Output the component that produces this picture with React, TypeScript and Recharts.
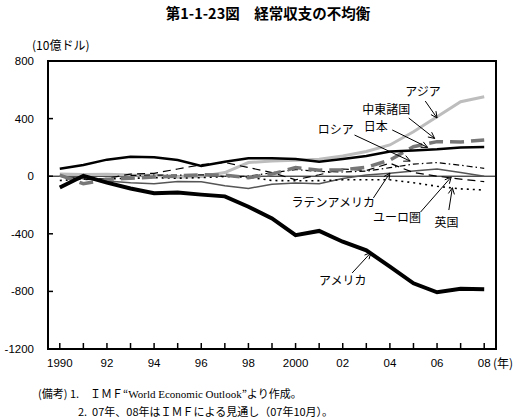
import React from "react"
import {
  LineChart,
  Line,
  XAxis,
  YAxis,
  ReferenceLine,
  ReferenceArea,
  ReferenceDot,
} from "recharts"

const years = [
  1990, 1991, 1992, 1993, 1994, 1995, 1996, 1997, 1998, 1999, 2000, 2001,
  2002, 2003, 2004, 2005, 2006, 2007, 2008,
]
const usa = [
  -79, 3, -45, -85, -118, -113, -128, -140, -212, -293, -410, -380, -455,
  -515, -628, -744, -806, -782, -785,
]
const japan = [
  52, 78, 115, 135, 131, 112, 71, 100, 124, 124, 120, 100, 119, 140, 172, 178,
  187, 200, 202,
]
const asia = [
  15, 12, 14, 8, 6, -8, -2, 25, 95, 105, 110, 118, 140, 172, 217, 309, 413,
  517, 552,
]
const middleEast = [
  8, -52, -22, -15, -6, 2, 10, 8, -10, 15, 60, 42, 45, 62, 112, 205, 240, 238,
  251,
]
const russia = [
  null, null, null, 5, 8, 7, 10, -2, 0, 24, 46, 33, 29, 35, 59, 84, 95, 76, 55,
]
const euro = [
  0, -25, -15, 15, 20, 50, 80, 95, 60, 25, -25, 10, 50, 40, 90, 25, 0, -20,
  -38,
]
const latinAmerica = [
  -1, -17, -34, -46, -52, -37, -39, -66, -85, -56, -48, -53, -16, 8, 21, 36,
  50, 25, 0,
]
const uk = [
  -30, -20, -18, -15, -10, -14, -10, -2, -6, -30, -32, -31, -25, -25, -25,
  -45, -70, -88, -96,
]

const yTicks = [-1200, -800, -400, 0, 400, 800]

// label text position, arrow start, arrow tip (all in data units)
const notes = [
  { text: "アジア", tx: 2005.4, ty: 585, ax: 2005.5, ay: 522, bx: 2006.0, by: 404 },
  { text: "中東諸国", tx: 2003.85, ty: 459, ax: 2004.8, ay: 404, bx: 2005.9, by: 262 },
  { text: "日本", tx: 2003.4, ty: 341, ax: 2004.1, ay: 321, bx: 2005.6, by: 200 },
  { text: "ロシア", tx: 2001.7, ty: 321, ax: 2002.5, ay: 286, bx: 2004.86, by: 105 },
  { text: "ラテンアメリカ", tx: 2001.6, ty: -186, ax: 2003.3, ay: -151, bx: 2004.0, by: 22 },
  { text: "ユーロ圏", tx: 2004.3, ty: -290, ax: 2005.3, ay: -249, bx: 2006.6, by: -6 },
  { text: "英国", tx: 2006.4, ty: -325, ax: 2006.5, ay: -235, bx: 2006.65, by: -80 },
  { text: "アメリカ", tx: 2002.0, ty: -728, ax: 2002.4, ay: -672, bx: 2003.2, by: -530 },
]

const data = years.map((y, i) => ({
  year: y,
  usa: usa[i],
  japan: japan[i],
  asia: asia[i],
  middleEast: middleEast[i],
  russia: russia[i],
  euro: euro[i],
  latinAmerica: latinAmerica[i],
  uk: uk[i],
}))

const jp = '"Noto Sans CJK JP", sans-serif'
const num = '"Liberation Sans", Arial, sans-serif'

function fmtYear(y: number) {
  if (y === 1990 || y === 2000) return String(y)
  return String(y % 100).padStart(2, "0")
}

function XTick(props: any) {
  const { x, y, payload } = props
  const show = payload.value % 2 === 0
  return (
    <g>
      <line x1={x} y1={y} x2={x} y2={y - 6} stroke="#000" strokeWidth={1.5} />
      {show && (
        <text x={x} y={y + 18} textAnchor="middle" fontSize={11.5} fontFamily={num} fill="#000">
          {fmtYear(payload.value)}
        </text>
      )}
    </g>
  )
}

function YTick(props: any) {
  const { x, y, payload } = props
  return (
    <g>
      <line x1={x} y1={y} x2={x + 5} y2={y} stroke="#000" strokeWidth={1.5} />
      <text x={x - 14} y={y + 4} textAnchor="end" fontSize={11.5} fontFamily={num} fill="#000">
        {payload.value}
      </text>
    </g>
  )
}

function Arrow(props: any) {
  const { x1, y1, x2, y2 } = props
  const a = Math.atan2(y2 - y1, x2 - x1)
  const len = 7
  const s = 0.45
  return (
    <g stroke="#000" strokeWidth={1} fill="none">
      <line x1={x1} y1={y1} x2={x2} y2={y2} />
      <polyline
        points={`${x2 - len * Math.cos(a - s)},${y2 - len * Math.sin(a - s)} ${x2},${y2} ${x2 - len * Math.cos(a + s)},${y2 - len * Math.sin(a + s)}`}
      />
    </g>
  )
}

export default function App() {
  return (
    <div
      style={{
        position: "absolute",
        left: 0,
        top: 0,
        width: 521,
        height: 419,
        background: "#fff",
        fontFamily: jp,
        color: "#000",
      }}
    >
      <div
        style={{
          position: "absolute",
          left: 0,
          width: 536,
          top: 2,
          textAlign: "center",
          fontSize: 14.5,
          fontWeight: 700,
          whiteSpace: "pre",
        }}
      >
        第1-1-23図　経常収支の不均衡
      </div>
      <div style={{ position: "absolute", left: 32, top: 36, fontSize: 12, whiteSpace: "pre" }}>(10億ドル)</div>
      <div style={{ position: "absolute", left: 493, top: 354, fontSize: 12, whiteSpace: "pre" }}>(年)</div>
      <div style={{ position: "absolute", left: 38, top: 385, fontSize: 11, whiteSpace: "pre" }}>
        (備考) 1.　ＩＭＦ“<span style={{ fontFamily: '"Liberation Serif", serif' }}>World Economic Outlook</span>”より作成。
      </div>
      <div style={{ position: "absolute", left: 78, top: 403, fontSize: 11, whiteSpace: "pre" }}>
        2.  07年、08年はＩＭＦによる見通し（07年10月）。
      </div>
      <div style={{ position: "absolute", left: 0, top: 0 }}>
        <LineChart
          width={521}
          height={419}
          data={data}
          margin={{ top: 61, right: 25, bottom: 0, left: 0 }}
        >
          <XAxis
            dataKey="year"
            type="number"
            domain={[1989.5, 2008.5]}
            ticks={years}
            interval={0}
            axisLine={false}
            tickLine={false}
            tickSize={0}
            tickMargin={0}
            tick={<XTick />}
            height={70}
          />
          <YAxis
            type="number"
            domain={[-1200, 800]}
            ticks={yTicks}
            interval={0}
            axisLine={false}
            tickLine={false}
            tickSize={0}
            tickMargin={0}
            width={48}
            tick={<YTick />}
          />
          <ReferenceLine y={0} stroke="#000" strokeWidth={1} />
          <Line dataKey="asia" stroke="#bdbdbd" strokeWidth={3} dot={false} isAnimationActive={false} />
          <Line dataKey="latinAmerica" stroke="#555" strokeWidth={1.5} dot={false} isAnimationActive={false} />
          <Line dataKey="uk" stroke="#000" strokeWidth={1.6} strokeDasharray="2 4" dot={false} isAnimationActive={false} />
          <Line dataKey="euro" stroke="#000" strokeWidth={1.2} strokeDasharray="8 5" dot={false} isAnimationActive={false} />
          <Line dataKey="russia" stroke="#000" strokeWidth={1.2} strokeDasharray="6 3 1.5 3" dot={false} isAnimationActive={false} connectNulls={false} />
          <Line dataKey="middleEast" stroke="#777" strokeWidth={3.5} strokeDasharray="14 7" dot={false} isAnimationActive={false} />
          <Line dataKey="japan" stroke="#000" strokeWidth={2.5} dot={false} isAnimationActive={false} />
          <Line dataKey="usa" stroke="#000" strokeWidth={4} dot={false} isAnimationActive={false} />
          <ReferenceArea
            x1={1989.5}
            x2={2008.5}
            y1={-1200}
            y2={800}
            fill="none"
            fillOpacity={0}
            stroke="#000"
            strokeWidth={2}
          />
          {notes.map((n) => (
            <ReferenceLine
              key={"a" + n.text}
              segment={[
                { x: n.ax, y: n.ay },
                { x: n.bx, y: n.by },
              ]}
              shape={(p: any) => <Arrow {...p} />}
            />
          ))}
          {notes.map((n) => (
            <ReferenceDot
              key={"t" + n.text}
              x={n.tx}
              y={n.ty}
              r={0}
              shape={(p: any) => (
                <text
                  x={p.cx}
                  y={p.cy + 4}
                  textAnchor="middle"
                  fontSize={12}
                  fontFamily={jp}
                  fill="#000"
                >
                  {n.text}
                </text>
              )}
            />
          ))}
        </LineChart>
      </div>
    </div>
  )
}
